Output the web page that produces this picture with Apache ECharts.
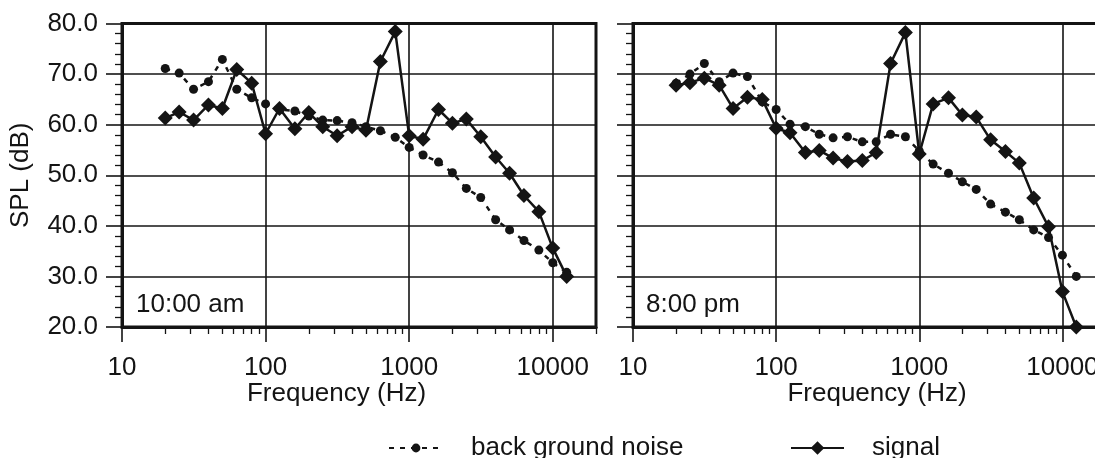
<!DOCTYPE html>
<html><head><meta charset="utf-8">
<script src="https://cdn.jsdelivr.net/npm/echarts@6/dist/echarts.min.js"></script>
<style>html,body{margin:0;padding:0;background:#fff}#c{width:1095px;height:458px}</style>
</head><body><div id="c"></div>
<script>
const freqs = [20,25,31.5,40,50,63,80,100,125,160,200,250,315,400,500,630,800,1000,1250,1600,2000,2500,3150,4000,5000,6300,8000,10000,12500];
const noiseAM  = [71.1,70.2,67.0,68.5,72.9,67.0,65.3,64.1,63.0,62.7,61.7,60.9,60.8,60.4,59.6,58.8,57.5,55.5,54.0,52.6,50.5,47.4,45.6,41.2,39.2,37.1,35.2,32.7,30.8];
const signalAM = [61.3,62.5,60.9,63.9,63.2,70.9,68.2,58.2,63.2,59.2,62.4,59.6,57.8,59.6,58.9,72.5,78.4,57.8,57.1,63.0,60.3,61.1,57.6,53.6,50.4,46.0,42.8,35.6,30.0];
const noisePM  = [68.2,70.0,72.1,68.5,70.2,69.5,64.5,63.0,60.1,59.6,58.1,57.4,57.6,56.6,56.6,58.1,57.6,54.8,52.2,50.4,48.7,47.2,44.3,42.7,41.2,39.2,37.7,34.2,30.0];
const signalPM = [67.8,68.3,69.2,67.8,63.2,65.4,65.0,59.3,58.4,54.5,54.9,53.4,52.7,52.9,54.5,72.1,78.2,54.2,64.1,65.3,61.9,61.5,57.0,54.7,52.4,45.5,39.8,27.0,20.0];
const majorX = [10,100,1000,10000];
const minorX = [20,30,40,50,60,70,80,90,200,300,400,500,600,700,800,900,2000,3000,4000,5000,6000,7000,8000,9000,20000];
const panelLabels = ['10:00 am','8:00 pm'];
const seriesNames = ['back ground noise','signal'];

const FONT = 'Liberation Sans, Arial, sans-serif';
const FS = 26;
const INK = '#141414';
const pair = arr => freqs.map((f,i)=>[f,arr[i]]);

const grids = [
  {left:122, top:23.5, width:474, height:303.5, outerBoundsMode:'none', containLabel:false, show:true, borderColor:INK, borderWidth:3, backgroundColor:'#fff'},
  {left:633, top:23.5, width:472.5, height:303.5, outerBoundsMode:'none', containLabel:false, show:true, borderColor:INK, borderWidth:3, backgroundColor:'#fff'}
];
const xAxes = [];
const yAxes = [];
[0,1].forEach(g=>{
  xAxes.push({type:'log', logBase:10, gridIndex:g, position:'bottom', min:10, max:20000,
    axisLine:{show:true, lineStyle:{color:INK,width:3}},
    axisTick:{show:true, customValues:majorX, length:15, inside:false, lineStyle:{color:INK,width:1.6}},
    axisLabel:{show:true, customValues:majorX, margin:28, color:INK, fontFamily:FONT, fontSize:FS, formatter:v=>String(Math.round(v))},
    splitLine:{show:true, lineStyle:{color:INK,width:1.6}}});
  xAxes.push({type:'log', logBase:10, gridIndex:g, position:'bottom', min:10, max:20000,
    axisLine:{show:false},
    axisTick:{show:true, customValues:minorX, length:7, inside:false, lineStyle:{color:INK,width:1.3}},
    axisLabel:{show:false}, splitLine:{show:false}});
  yAxes.push({type:'value', gridIndex:g, min:20, max:80, interval:10,
    name: g===0 ? 'SPL (dB)' : '', nameLocation:'middle', nameGap:88, nameRotate:90,
    nameTextStyle:{color:INK, fontFamily:FONT, fontSize:FS},
    axisLine:{show:true, lineStyle:{color:INK,width:3}},
    axisTick:{show:true, length:16, inside:false, lineStyle:{color:INK,width:1.6}},
    minorTick:{show:true, splitNumber:5, length:7, lineStyle:{color:INK,width:1.3}},
    axisLabel:{show:g===0, margin:24, color:INK, fontFamily:FONT, fontSize:FS, formatter:v=>v.toFixed(1)},
    splitLine:{show:true, lineStyle:{color:INK,width:1.6}}});
});

function noiseSeries(data, g){
  return {name:seriesNames[0], type:'line', xAxisIndex:g*2, yAxisIndex:g, data:pair(data),
    symbol:'circle', symbolSize:9, itemStyle:{color:INK}, lineStyle:{color:INK, width:2.5, type:[5,6]}, z:3, animation:false};
}
function signalSeries(data, g){
  return {name:seriesNames[1], type:'line', xAxisIndex:g*2, yAxisIndex:g, data:pair(data),
    symbol:'diamond', symbolSize:15, itemStyle:{color:INK}, lineStyle:{color:INK, width:2.5}, z:4, animation:false};
}

const legendText = {color:INK, fontFamily:FONT, fontSize:FS, padding:[0,0,0,23]};
const option = {
  backgroundColor:'#fff',
  animation:false,
  grid: grids,
  xAxis: xAxes,
  yAxis: yAxes,
  legend:[
    {data:[seriesNames[0]], left:383, top:430, itemWidth:54, itemHeight:11, textStyle:legendText},
    {data:[seriesNames[1]], left:785, top:430, itemWidth:53, itemHeight:17, textStyle:legendText}
  ],
  graphic:[
    {type:'text', left:136, top:292, style:{text:panelLabels[0], fill:INK, font:FS+'px '+FONT}},
    {type:'text', left:646, top:292, style:{text:panelLabels[1], fill:INK, font:FS+'px '+FONT}},
    {type:'text', x:336.5, y:394, style:{text:'Frequency (Hz)', fill:INK, font:FS+'px '+FONT, align:'center', verticalAlign:'middle'}},
    {type:'text', x:877, y:394, style:{text:'Frequency (Hz)', fill:INK, font:FS+'px '+FONT, align:'center', verticalAlign:'middle'}}
  ],
  series:[noiseSeries(noiseAM,0), signalSeries(signalAM,0), noiseSeries(noisePM,1), signalSeries(signalPM,1)]
};
const chart = echarts.init(document.getElementById('c'), null, {renderer:'canvas'});
chart.setOption(option);
</script></body></html>
